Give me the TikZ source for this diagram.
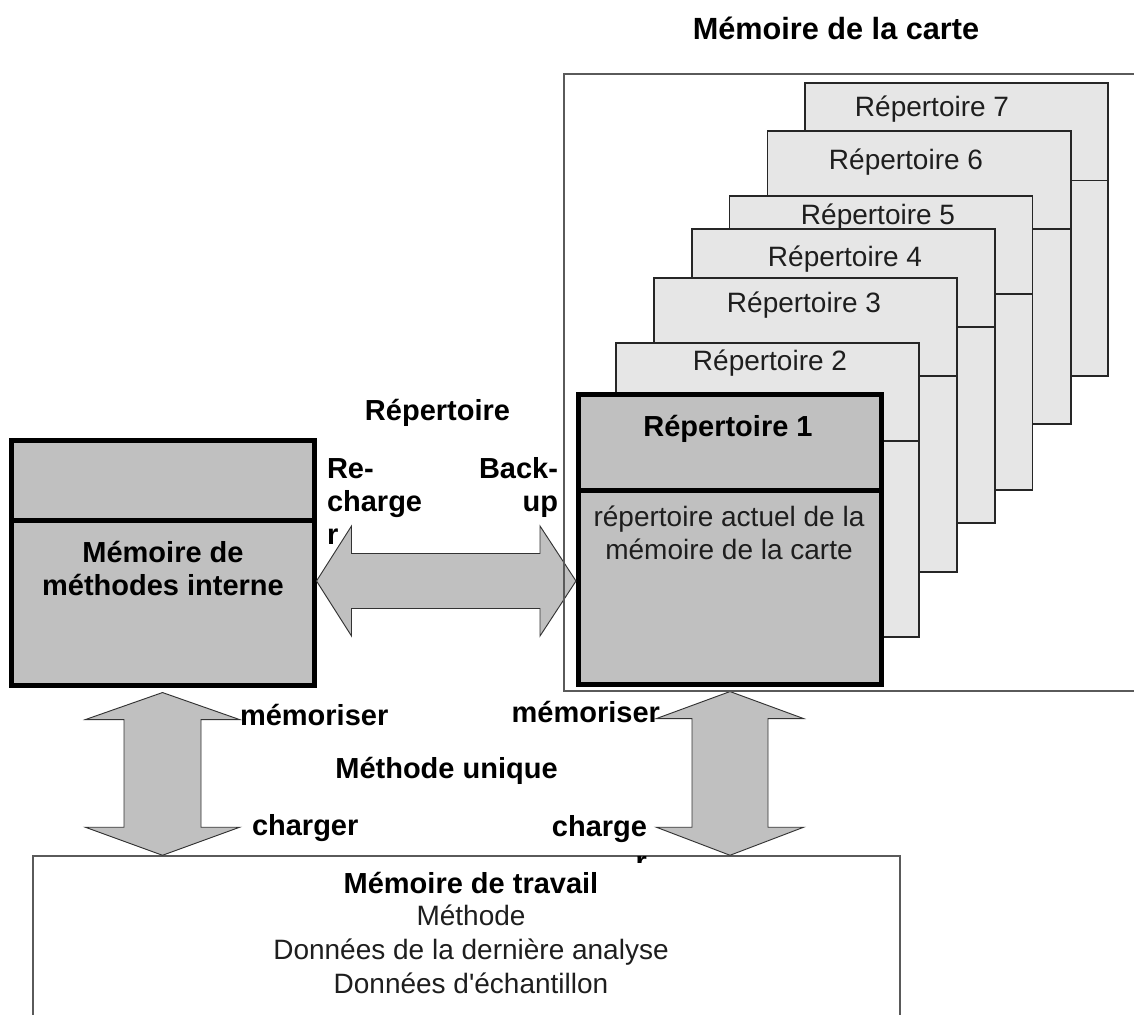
\documentclass[tikz,border=0pt]{standalone}
\usepackage{fontspec}
\setmainfont{Liberation Sans}
\usetikzlibrary{calc,fit}
\definecolor{boxgray}{RGB}{192,192,192}
\definecolor{stackgray}{RGB}{230,230,230}
\definecolor{framegray}{RGB}{90,90,90}
\definecolor{litegray}{RGB}{30,30,30}
\tikzset{
  boldtxt/.style={font=\fontsize{21.75}{26}\selectfont\bfseries, inner sep=0pt, outer sep=0pt},
  titletxt/.style={font=\fontsize{23}{27}\selectfont\bfseries, inner sep=0pt, outer sep=0pt},
  litetxt/.style={font=\fontsize{21}{25}\selectfont, text=litegray, inner sep=0pt, outer sep=0pt},
  thickbox/.style={draw=black, line width=3.75pt, fill=boxgray, inner sep=0pt},
  stackbox/.style={draw=black!85, line width=0.8pt, fill=stackgray, inner sep=0pt},
  stackline/.style={draw=black!85, line width=0.8pt},
  thickline/.style={draw=black, line width=3.75pt},
  framebox/.style={draw=framegray, line width=1.1pt},
  blockarrow/.style={draw=black!80, line width=0.7pt, fill=boxgray, line join=miter},
}
\newcommand\vblockarrow[4]{%
  \draw[blockarrow] (#1) -- ($(#1)+(#3,27)$) -- ($(#1)+(#4,27)$) -- ($(#2)+(#4,-28)$) -- ($(#2)+(#3,-28)$) -- (#2)
   -- ($(#2)+(-#3,-28)$) -- ($(#2)+(-#4,-28)$) -- ($(#1)+(-#4,27)$) -- ($(#1)+(-#3,27)$) -- cycle;}
\begin{document}
\begin{tikzpicture}[x=0.75pt,y=-0.75pt]
\useasboundingbox (0,0) rectangle (1134,1014);
\fill[white] (0,0) rectangle (1134,1014);

% title
\node[titletxt, anchor=base] (title) at (836,39) {Mémoire de la carte};

% stacked directories
\node[stackbox, fit={(805,83) (1108,376)}] (r7) {};
\draw[stackline] (805,180.5) -- (1108,180.5);
\node[litetxt, anchor=base] (t7) at (932,116) {Répertoire 7};

\node[stackbox, fit={(767.5,131) (1071,424)}] (r6) {};
\draw[stackline] (767.5,229) -- (1071,229);
\node[litetxt, anchor=base] (t6) at (906,169) {Répertoire 6};

\node[stackbox, fit={(729.5,196) (1032.5,490)}] (r5) {};
\draw[stackline] (729.5,294) -- (1032.5,294);
\node[litetxt, anchor=base] (t5) at (878,224) {Répertoire 5};

\node[stackbox, fit={(692,229) (995,523)}] (r4) {};
\draw[stackline] (692,327) -- (995,327);
\node[litetxt, anchor=base] (t4) at (845,266) {Répertoire 4};

\node[stackbox, fit={(654,278) (957,572)}] (r3) {};
\draw[stackline] (654,376) -- (957,376);
\node[litetxt, anchor=base] (t3) at (804,312) {Répertoire 3};

\node[stackbox, fit={(616,343) (919,637)}] (r2) {};
\draw[stackline] (616,441) -- (919,441);
\node[litetxt, anchor=base] (t2) at (770,370) {Répertoire 2};

% current directory
\node[thickbox, fit={(578.5,394) (881.5,684.5)}] (r1) {};
\draw[thickline] (578.5,490) -- (881.5,490);
\node[boldtxt, anchor=base] (t1) at (728,436) {Répertoire 1};
\node[litetxt, anchor=base] (t1a) at (729,526) {répertoire actuel de la};
\node[litetxt, anchor=base] (t1b) at (729,559) {mémoire de la carte};

% internal method memory
\node[thickbox, fit={(11,440) (314,685.5)}] (lb) {};
\draw[thickline] (11,520) -- (314,520);
\node[boldtxt, anchor=base] (lba) at (163,562) {Mémoire de};
\node[boldtxt, anchor=base] (lbb) at (163,595) {méthodes interne};

% working memory
\node[framebox, inner sep=0pt, fit={(33,856) (900,1030)}] (wb) {};
\node[boldtxt, anchor=base] (wba) at (471,893) {Mémoire de travail};
\node[litetxt, anchor=base] (wbb) at (471,925) {Méthode};
\node[litetxt, anchor=base] (wbc) at (471,959) {Données de la dernière analyse};
\node[litetxt, anchor=base] (wbd) at (471,993) {Données d\textquotesingle échantillon};

% horizontal block arrow
\coordinate (hmid) at (0,581);
\coordinate (ha) at (lb.east |- hmid);
\coordinate (hb) at (r1.west |- hmid);
\draw[blockarrow] (ha) -- ($(ha)+(35,-55)$) -- ($(ha)+(35,-27.5)$) -- ($(hb)+(-36,-27.5)$) -- ($(hb)+(-36,-55)$) -- (hb)
  -- ($(hb)+(-36,55)$) -- ($(hb)+(-36,27.5)$) -- ($(ha)+(35,27.5)$) -- ($(ha)+(35,55)$) -- cycle;

% vertical block arrows
\coordinate (la) at ([yshift=-3.4pt]lb.south);
\coordinate (lbt) at (lb.south |- wb.north);
\vblockarrow{la}{lbt}{77}{38.5}
\coordinate (ra) at ([yshift=-3.4pt]r1.south);
\coordinate (rbt) at (r1.south |- wb.north);
\vblockarrow{ra}{rbt}{73.5}{38}

% card memory frame (open on the right)
\draw[framebox] (1140,74) -- (564,74) -- (564,691) -- (1140,691);

% labels
\node[boldtxt, anchor=base] (rep) at (437.5,420) {Répertoire};
\node[boldtxt, anchor=base west] (re1) at (327,478) {Re-};
\node[boldtxt, anchor=base west] (re2) at (327,511) {charge};
\node[boldtxt, anchor=base west] (re3) at (327,544) {r};
\node[boldtxt, anchor=base east] (bu1) at (558,478) {Back-};
\node[boldtxt, anchor=base east] (bu2) at (558,511) {up};

\node[boldtxt, anchor=base west] (mem1) at (240,725) {mémoriser};
\node[boldtxt, anchor=base west] (ch1) at (252,835) {charger};
\node[boldtxt, anchor=base east] (mem2) at (660,722) {mémoriser};
\node[boldtxt, anchor=base east] (ch2) at (647,836) {charge};
\begin{scope}
  \clip (600,856) rectangle (700,862);
  \node[boldtxt, anchor=base east] (ch2r) at (647,871) {r};
\end{scope}
\node[boldtxt, anchor=base] (mu) at (446.5,778) {Méthode unique};
\end{tikzpicture}
\end{document}
